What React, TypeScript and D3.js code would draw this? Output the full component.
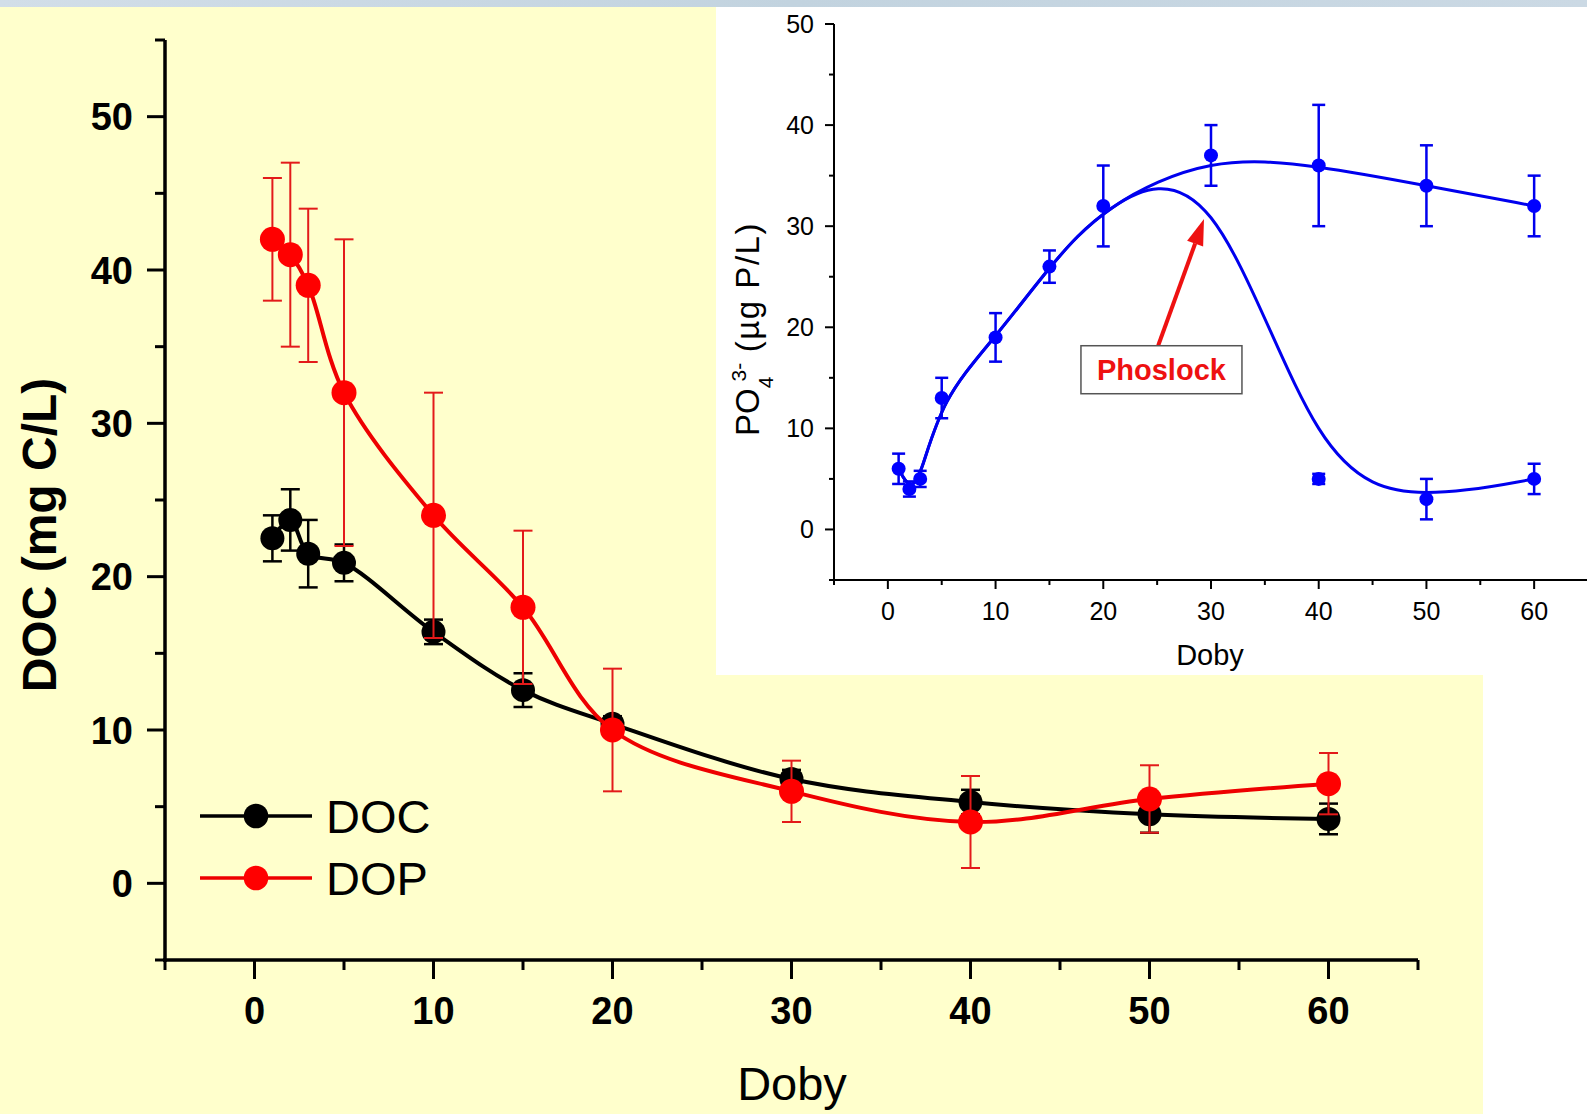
import React from 'react';
import * as d3 from 'd3';

// ---------- Main chart data ----------
const days = [1, 2, 3, 5, 10, 15, 20, 30, 40, 50, 60];
const docValues = [22.5, 23.7, 21.5, 20.9, 16.4, 12.6, 10.4, 6.8, 5.3, 4.5, 4.2];
const docErrors = [1.5, 2.0, 2.2, 1.2, 0.8, 1.1, 0.5, 0.6, 0.8, 1.2, 1.0];
const dopValues = [42, 41, 39, 32, 24, 18, 10, 6, 4, 5.5, 6.5];
const dopErrors = [4, 6, 5, 10, 8, 5, 4, 2, 3, 2.2, 2];

const mainXTicks = [0, 10, 20, 30, 40, 50, 60];
const mainXMinor = [-5, 5, 15, 25, 35, 45, 55, 65];
const mainYTicks = [0, 10, 20, 30, 40, 50];
const mainYMinor = [-5, 5, 15, 25, 35, 45, 55];

// ---------- Inset data ----------
const insetDays = [1, 2, 3, 5, 10, 15, 20, 30, 40, 50, 60];
const controlValues = [6, 4, 5, 13, 19, 26, 32, 37, 36, 34, 32];
const controlErrors = [1.5, 0.75, 0.8, 2, 2.4, 1.6, 4, 3, 6, 4, 3];
const phoslockDays = [40, 50, 60];
const phoslockValues = [5, 3, 5];
const phoslockErrors = [0.5, 2, 1.5];
const phoslockSharedUntil = 30; // curve shares control points up to this day

const insetXTicks = [0, 10, 20, 30, 40, 50, 60];
const insetXMinor = [-5, 5, 15, 25, 35, 45, 55, 65];
const insetYTicks = [0, 10, 20, 30, 40, 50];
const insetYMinor = [-5, 5, 15, 25, 35, 45];

const FONT = "'Liberation Sans', Arial, Helvetica, sans-serif";

export default function App() {
  const W = 1587, H = 1114;
  const xM = d3.scaleLinear().domain([-5, 65]).range([165, 1418]);
  const yM = d3.scaleLinear().domain([-5, 55]).range([960, 40]);
  const xI = d3.scaleLinear().domain([-5, 65]).range([834, 1588]);
  const yI = d3.scaleLinear().domain([-5, 50]).range([580, 24]);

  const mainLine = d3
    .line<[number, number]>()
    .x((d) => xM(d[0]))
    .y((d) => yM(d[1]))
    .curve(d3.curveCatmullRom.alpha(0.5));
  const insetLine = d3
    .line<[number, number]>()
    .x((d) => xI(d[0]))
    .y((d) => yI(d[1]))
    .curve(d3.curveBasis);

  const docPts = days.map((d, i) => [d, docValues[i]] as [number, number]);
  const dopPts = days.map((d, i) => [d, dopValues[i]] as [number, number]);
  const ctrlPts = insetDays.map((d, i) => [d, controlValues[i]] as [number, number]);
  const phosPts = [
    ...ctrlPts.filter((p) => p[0] <= phoslockSharedUntil),
    ...phoslockDays.map((d, i) => [d, phoslockValues[i]] as [number, number]),
  ];

  const errBars = (
    xs: number[], vs: number[], es: number[],
    xs_: (v: number) => number, ys_: (v: number) => number,
    color: string, width: number, cap: number, key: string
  ) =>
    xs.map((d, i) => {
      const x = xs_(d);
      const y1 = ys_(vs[i] + es[i]);
      const y2 = ys_(vs[i] - es[i]);
      return (
        <g key={key + i} stroke={color} strokeWidth={width}>
          <line x1={x} x2={x} y1={y1} y2={y2} />
          <line x1={x - cap / 2} x2={x + cap / 2} y1={y1} y2={y1} />
          <line x1={x - cap / 2} x2={x + cap / 2} y1={y2} y2={y2} />
        </g>
      );
    });

  // annotation (in inset data units)
  const tip = [29.35, 30.7];
  const tail = [25.1, 18.2];
  const tx = xI(tip[0]), ty = yI(tip[1]);
  const sx = xI(tail[0]), sy = yI(tail[1]);
  const len = Math.hypot(tx - sx, ty - sy);
  const ux = (tx - sx) / len, uy = (ty - sy) / len;
  const headL = 26, headW = 8.5;
  const bx = tx - ux * headL, by = ty - uy * headL;
  const head = `${tx},${ty} ${bx - uy * headW},${by + ux * headW} ${bx + uy * headW},${by - ux * headW}`;
  const boxCx = xI(25.4), boxCy = yI(15.8);

  return (
    <svg
      width={W}
      height={H}
      viewBox={`0 0 ${W} ${H}`}
      style={{ position: 'absolute', left: 0, top: 0, display: 'block' }}
      fontFamily={FONT}
    >
      <defs>
        <linearGradient id="band" x1="0" x2="1" y1="0" y2="0">
          <stop offset="0" stopColor="#d2dee8" />
          <stop offset="0.5" stopColor="#c2d3df" />
          <stop offset="1" stopColor="#cbd9e4" />
        </linearGradient>
      </defs>
      <rect x={0} y={0} width={W} height={H} fill="#ffffff" />
      <rect x={0} y={7} width={1483} height={H - 7} fill="#ffffcc" />
      <rect x={0} y={0} width={W} height={7} fill="url(#band)" />

      {/* ---------- Main axes ---------- */}
      <g stroke="#000" strokeWidth={3.5} fill="none">
        <line x1={xM(-5)} x2={xM(-5)} y1={yM(55)} y2={yM(-5) + 2} />
        <line x1={xM(-5) - 2} x2={xM(65)} y1={yM(-5)} y2={yM(-5)} />
        {mainYTicks.map((t) => (
          <line key={'myt' + t} x1={xM(-5) - 18} x2={xM(-5)} y1={yM(t)} y2={yM(t)} strokeWidth={3} />
        ))}
        {mainYMinor.map((t) => (
          <line key={'mym' + t} x1={xM(-5) - 10} x2={xM(-5)} y1={yM(t)} y2={yM(t)} strokeWidth={3} />
        ))}
        {mainXTicks.map((t) => (
          <line key={'mxt' + t} x1={xM(t)} x2={xM(t)} y1={yM(-5)} y2={yM(-5) + 19} strokeWidth={3} />
        ))}
        {mainXMinor.map((t) => (
          <line key={'mxm' + t} x1={xM(t)} x2={xM(t)} y1={yM(-5)} y2={yM(-5) + 10} strokeWidth={3} />
        ))}
      </g>
      <g fontSize={38} fontWeight="bold" fill="#000">
        {mainYTicks.map((t) => (
          <text key={'myl' + t} x={133} y={yM(t)} dy="0.36em" textAnchor="end">{t}</text>
        ))}
        {mainXTicks.map((t) => (
          <text key={'mxl' + t} x={xM(t)} y={1024} textAnchor="middle">{t}</text>
        ))}
      </g>
      <text
        transform={`translate(56,535) rotate(-90)`}
        textAnchor="middle"
        fontSize={48}
        fontWeight="bold"
      >
        DOC (mg C/L)
      </text>
      <text x={792} y={1100} textAnchor="middle" fontSize={47}>Doby</text>

      {/* ---------- Main series ---------- */}
      <path d={mainLine(docPts) || ''} fill="none" stroke="#000" strokeWidth={4} />
      {errBars(days, docValues, docErrors, xM, yM, '#000', 2.5, 19, 'de')}
      {days.map((d, i) => (
        <circle key={'dc' + i} cx={xM(d)} cy={yM(docValues[i])} r={12} fill="#000" />
      ))}
      <path d={mainLine(dopPts) || ''} fill="none" stroke="#ee0000" strokeWidth={4} />
      {errBars(days, dopValues, dopErrors, xM, yM, '#e31a1a', 2, 19, 're')}
      {days.map((d, i) => (
        <circle key={'rc' + i} cx={xM(d)} cy={yM(dopValues[i])} r={12.5} fill="#ff0000" />
      ))}

      {/* ---------- Legend ---------- */}
      <line x1={200} x2={312} y1={816} y2={816} stroke="#000" strokeWidth={3.5} />
      <circle cx={256} cy={816} r={12.3} fill="#000" />
      <text x={326} y={833} fontSize={47}>DOC</text>
      <line x1={200} x2={312} y1={878} y2={878} stroke="#ee0000" strokeWidth={3.5} />
      <circle cx={256} cy={878} r={12.3} fill="#ff0000" />
      <text x={326} y={895} fontSize={47}>DOP</text>

      {/* ---------- Inset ---------- */}
      <rect x={716} y={7} width={W - 716} height={668} fill="#ffffff" />
      <g stroke="#000" strokeWidth={2} fill="none">
        <line x1={xI(-5)} x2={xI(-5)} y1={yI(50)} y2={yI(-5) + 1} />
        <line x1={xI(-5) - 1} x2={xI(65)} y1={yI(-5)} y2={yI(-5)} />
        {insetYTicks.map((t) => (
          <line key={'iyt' + t} x1={xI(-5) - 9} x2={xI(-5)} y1={yI(t)} y2={yI(t)} />
        ))}
        {insetYMinor.map((t) => (
          <line key={'iym' + t} x1={xI(-5) - 5} x2={xI(-5)} y1={yI(t)} y2={yI(t)} />
        ))}
        {insetXTicks.map((t) => (
          <line key={'ixt' + t} x1={xI(t)} x2={xI(t)} y1={yI(-5)} y2={yI(-5) + 9} />
        ))}
        {insetXMinor.map((t) => (
          <line key={'ixm' + t} x1={xI(t)} x2={xI(t)} y1={yI(-5)} y2={yI(-5) + 5} />
        ))}
      </g>
      <g fontSize={25} fill="#000">
        {insetYTicks.map((t) => (
          <text key={'iyl' + t} x={814} y={yI(t)} dy="0.36em" textAnchor="end">{t}</text>
        ))}
        {insetXTicks.map((t) => (
          <text key={'ixl' + t} x={xI(t)} y={620} textAnchor="middle">{t}</text>
        ))}
      </g>
      <text x={1210} y={665} textAnchor="middle" fontSize={29}>Doby</text>
      <text transform={`translate(759,329) rotate(-90)`} textAnchor="middle" fontSize={33}>
        PO
        <tspan fontSize={21} dy={14}>4</tspan>
        <tspan fontSize={21} dx={-5} dy={-27}>3-</tspan>
        <tspan dy={13} letterSpacing={1.5}>{' (\u00b5g P/L)'}</tspan>
      </text>

      <path d={insetLine(ctrlPts) || ''} fill="none" stroke="#0000ee" strokeWidth={3} />
      <path d={insetLine(phosPts) || ''} fill="none" stroke="#0000ee" strokeWidth={3} />
      {errBars(insetDays, controlValues, controlErrors, xI, yI, '#0000ee', 2.5, 13, 'ce')}
      {errBars(phoslockDays, phoslockValues, phoslockErrors, xI, yI, '#0000ee', 2.5, 13, 'pe')}
      {insetDays.map((d, i) => (
        <circle key={'cc' + i} cx={xI(d)} cy={yI(controlValues[i])} r={7} fill="#0000ff" />
      ))}
      {phoslockDays.map((d, i) => (
        <circle key={'pc' + i} cx={xI(d)} cy={yI(phoslockValues[i])} r={7} fill="#0000ff" />
      ))}

      {/* annotation */}
      <line x1={sx} y1={sy} x2={bx} y2={by} stroke="#ee1111" strokeWidth={4} />
      <polygon points={head} fill="#ee1111" />
      <rect x={boxCx - 80.5} y={boxCy - 24} width={161} height={48} fill="#ffffff" stroke="#555" strokeWidth={1.5} />
      <text x={boxCx} y={boxCy + 10} textAnchor="middle" fontSize={29} fontWeight="bold" fill="#ee1111">
        Phoslock
      </text>
    </svg>
  );
}
